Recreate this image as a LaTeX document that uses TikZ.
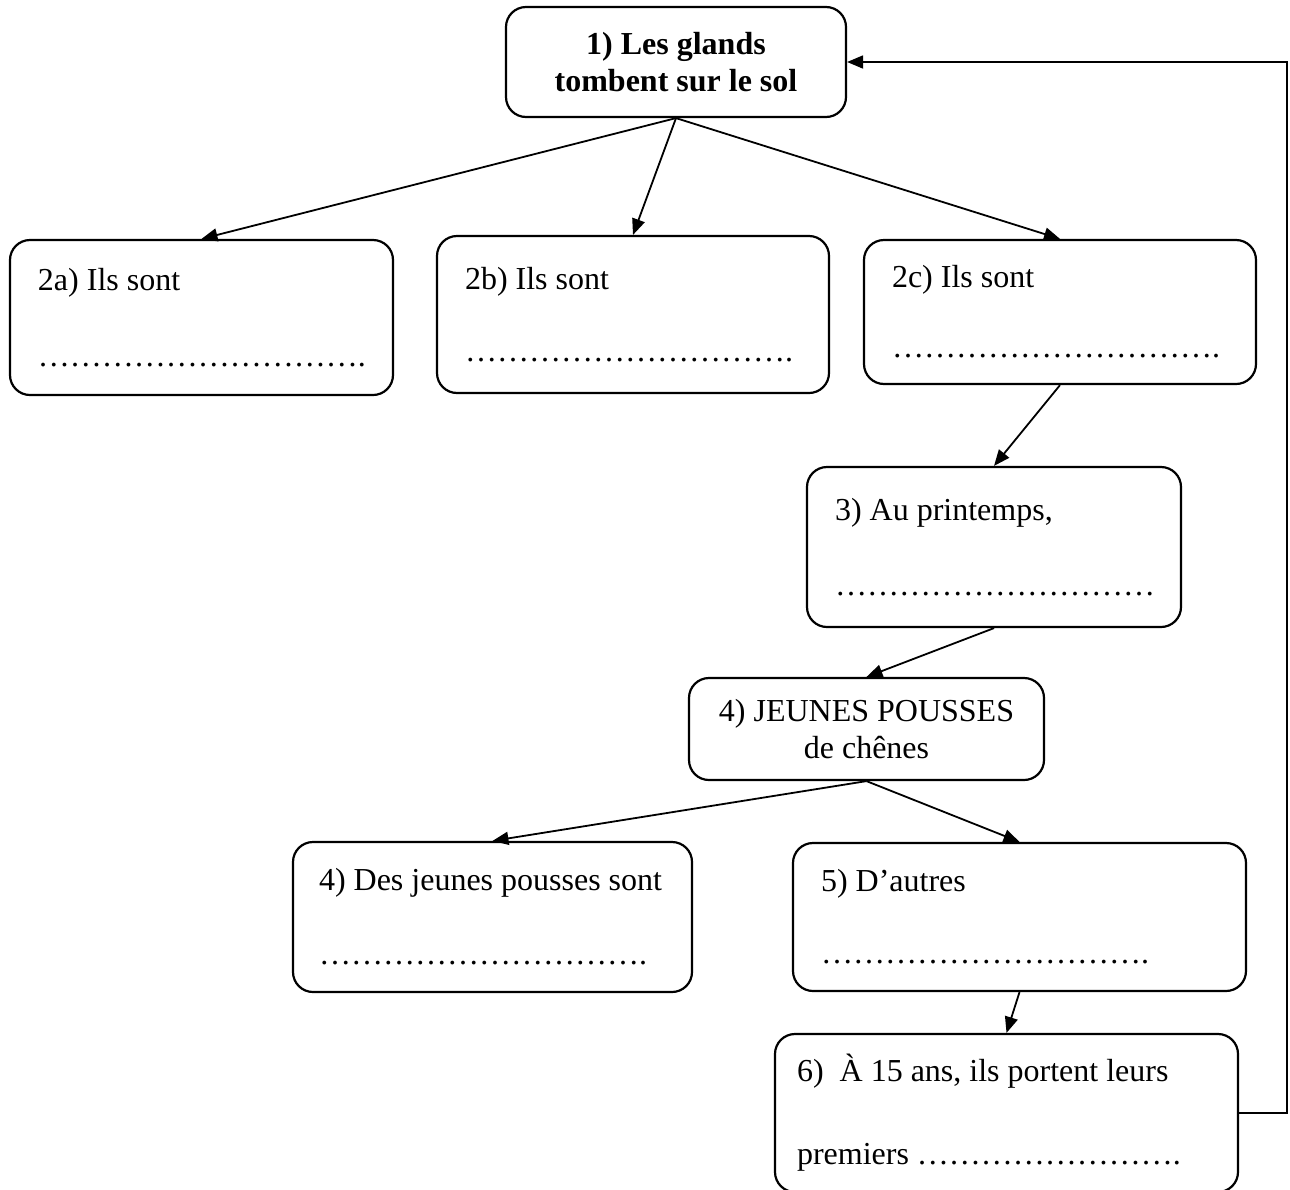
\documentclass[tikz,border=0pt]{standalone}
\usepackage{fontspec}
\setmainfont{Liberation Serif}
\usetikzlibrary{arrows.meta, positioning}
\tikzset{>={Triangle[length=8pt, width=6.5pt]}}
\newcommand{\pointilles}[1]{\foreach \k in {1,...,#1}{…}}

\begin{document}
\begin{tikzpicture}[
  x=0.5pt, y=-0.5pt,
  font=\fontsize{16}{18.5}\selectfont,
  etape/.style={draw, rounded corners=10pt, line width=1.1pt, inner xsep=14pt, inner ysep=0pt, align=flush left},
  titre/.style={draw, rounded corners=10pt, line width=1.1pt, inner sep=0pt, align=center},
  fleche/.style={->, line width=0.9pt}
]
\useasboundingbox (0,0) rectangle (1290,1189);

% Etape 1 : les glands (debut du cycle)
\node[titre, minimum width=170pt, minimum height=55pt, font=\fontsize{16}{18.5}\selectfont\bfseries] (glands) at (676,62) {1) Les glands\\tombent sur le sol};

% Etape 2 : trois devenirs possibles
\node[etape, minimum width=191.5pt, minimum height=77.5pt, text width=163.5pt] (ilsA) at (201.5,317.5) {2a) Ils sont\\[19.5pt]\pointilles{10}.};
\node[etape, minimum width=196pt, minimum height=78.5pt, text width=168pt] (ilsB) at (633,314.5) {2b) Ils sont\\[17.5pt]\pointilles{10}.};
\node[etape, minimum width=196pt, minimum height=72pt, text width=168pt] (ilsC) at (1060,312) {2c) Ils sont\\[16.5pt]\pointilles{10}.};

% Etape 3 : au printemps
\node[etape, minimum width=187pt, minimum height=80pt, text width=159pt] (printemps) at (994,547) {3) Au printemps,\\[19pt]\pointilles{10}};

% Etape 4 : jeunes pousses
\node[titre, minimum width=177.5pt, minimum height=51pt] (pousses) at (866.5,729) {4) JEUNES POUSSES\\de chênes};
\node[etape, minimum width=199.5pt, minimum height=75pt, inner xsep=13pt, text width=173.5pt] (pousseA) at (492.5,917) {4) Des jeunes pousses sont\\[18.5pt]\pointilles{10}.};

% Etape 5 : les autres
\node[etape, minimum width=226.5pt, minimum height=74pt, text width=198.5pt] (autres) at (1019.5,917) {5) D’autres\\[17.5pt]\pointilles{10}.};

% Etape 6 : premiers fruits
\node[etape, minimum width=231.5pt, minimum height=79pt, inner xsep=11pt, text width=209.5pt] (fruits) at (1006.5,1113) {6)~ À 15 ans, ils portent leurs\\[23pt]premiers \pointilles{8}.};

% Fleches entre les etapes
\draw[fleche] (glands.south) -- (ilsA.north);
\draw[fleche] (glands.south) -- (ilsB.north);
\draw[fleche] (glands.south) -- (ilsC.north);
\draw[fleche] (ilsC.south) -- (printemps.north);
\draw[fleche] (printemps.south) -- (pousses.north);
\draw[fleche] (pousses.south) -- (pousseA.north);
\draw[fleche] (pousses.south) -- (autres.north);
\draw[fleche] (autres.south) -- (fruits.north);

% Retour au debut du cycle
\draw[fleche] (fruits.east) -- ++(48,0) |- (glands.east);

\end{tikzpicture}
\end{document}
